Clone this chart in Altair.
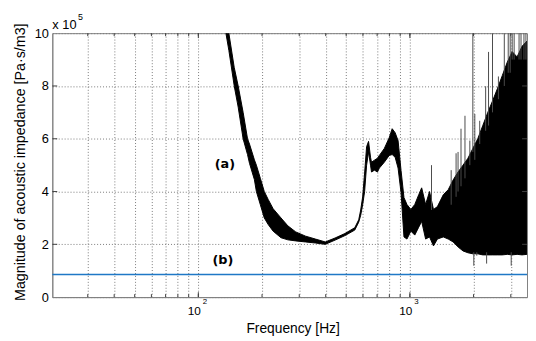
import altair as alt
import pandas as pd

# ---- curve (a): frequency [Hz], lower / upper envelope of the noisy trace [x 1e5 Pa·s/m3]
a_freq = [135.0, 139.4, 147.8, 154.3, 162.8, 170.8, 174.5, 184.1, 188.1, 196.4,
          205.0, 213.9, 225.7, 245.9, 265.0, 288.7, 321.4, 357.7, 398.1, 443.1,
          493.2, 549.0, 573.1, 585.5, 598.2, 611.1, 624.4, 637.9, 651.7, 658.7,
          680.2, 702.5, 717.7, 757.1, 798.8, 824.9, 851.8, 879.6, 908.4, 938.0,
          968.7, 1010.8, 1055.1, 1101.4, 1137.2, 1187.1, 1238.9, 1293.2, 1349.9, 1439.1,
          1518.4, 1602.3, 1690.4, 1783.5, 1881.6, 1985.3, 2094.4, 2209.6, 2331.2, 2459.3,
          2594.5, 2737.4, 2887.3, 3045.9, 3214.0, 3390.5, 3577.4]
a_lo = [10.0, 9.35, 8.0, 7.2, 6.0, 5.4, 5.07, 4.45, 4.0, 3.5,
        3.0, 2.75, 2.5, 2.25, 2.17, 2.13, 2.09, 2.05, 2.0, 2.16,
        2.33, 2.54, 2.84, 3.1, 3.5, 4.0, 5.0, 5.5, 5.0, 4.74,
        4.81, 4.74, 4.89, 5.11, 5.37, 5.4, 5.3, 4.89, 3.96, 2.28,
        2.2, 2.5, 2.35, 2.65, 2.87, 2.2, 2.28, 1.94, 2.2, 2.28,
        2.2, 2.09, 1.9, 1.75, 1.68, 1.64, 1.64, 1.6, 1.6, 1.6,
        1.6, 1.6, 1.62, 1.6, 1.62, 1.6, 1.62]
a_hi = [10.6, 10.0, 8.7, 8.0, 7.0, 6.0, 5.8, 5.2, 5.0, 4.5,
        4.0, 3.7, 3.35, 3.0, 2.7, 2.47, 2.31, 2.2, 2.09, 2.24,
        2.41, 2.63, 2.93, 3.3, 3.8, 4.7, 5.7, 5.9, 5.3, 5.11,
        5.19, 5.26, 5.37, 5.63, 6.04, 6.38, 6.23, 5.93, 4.8, 3.77,
        3.51, 3.32, 3.51, 3.88, 4.14, 3.51, 4.0, 3.32, 3.43, 3.88,
        4.07, 4.44, 4.74, 5.0, 5.26, 5.63, 6.0, 6.49, 6.98, 7.43,
        7.9, 8.4, 8.9, 9.3, 9.1, 9.5, 9.7]

# isolated spikes of curve (a)
spike_freq = [1265.7, 1568, 1654, 1690, 1745, 1822, 1921, 1985, 2006, 2028,
              2072, 2139, 2282, 2306, 2355, 2459, 2622, 2796, 2918, 2981,
              3014, 3046, 3112, 3283, 3354, 3463, 3538]
spike_lo = [3.3, 3.5, 3.8, 4.0, 4.2, 4.5, 5.0, 5.5, 1.19, 5.2,
            1.57, 5.8, 6.3, 1.27, 6.5, 7.0, 7.5, 8.0, 8.5, 8.5,
            1.19, 9.0, 9.0, 9.0, 9.0, 9.0, 9.0]
spike_hi = [5.0, 4.81, 5.45, 5.5, 6.38, 6.87, 5.93, 10.0, 1.7, 6.94,
            1.7, 6.68, 7.99, 1.7, 9.29, 10.0, 8.36, 10.0, 10.0, 10.0,
            1.7, 10.0, 10.0, 10.0, 10.0, 10.0, 10.0]

# ---- curve (b)
b_freq = [20.4, 3580]
b_val = [0.86, 0.86]

# ---- axes
x_domain = [20.4, 3580]
y_domain = [0, 10]
x_grid = [30, 40, 50, 60, 70, 80, 90, 100, 200, 300, 400, 500, 600, 700, 800, 900,
          1000, 2000, 3000]
x_major = [100, 1000]
x_base = ["10", "10"]
x_exponents = ["2", "3"]
y_ticks = [0, 2, 4, 6, 8, 10]
y_inner = [2, 4, 6, 8]
annot_freq = [133.5, 130.7]
annot_val = [5.04, 1.42]
annot_text = ["(a)", "(b)"]
y_factor = ["x 10"]
y_factor_exp = ["5"]

W, H = 482, 268
FONT = "Liberation Sans"
GRID = dict(grid=True, gridDash=[1, 2], gridColor="#7a7a7a", gridWidth=1,
            domainColor="#808080", ticks=False, labelColor="black",
            titleColor="black", labelFont=FONT, titleFont=FONT,
            titleFontWeight="normal")

xs = alt.Scale(type="log", domain=x_domain, nice=False)
ys = alt.Scale(domain=y_domain, nice=False)
X_AX = alt.Axis(values=x_grid, labels=False,
                title="Frequency [Hz]", titleFontSize=14, titleX=244, titleY=32,
                titleBaseline="middle", titleAlign="center", **GRID)
Y_AX = alt.Axis(values=y_ticks, labelFontSize=13, labelPadding=4,
                title="Magnitude of acoustic impedance [Pa·s/m3]", titleFontSize=14.5,
                titleAngle=-90, titleX=-32, titleY=130.5, titleAlign="center",
                titleBaseline="middle", **GRID)


def X(field):
    return alt.X(field, scale=xs, axis=X_AX)


def Y(field):
    return alt.Y(field, scale=ys, axis=Y_AX)


area_df = pd.DataFrame({"f": a_freq, "lo": a_lo, "hi": a_hi})
spike_df = pd.DataFrame({"f": spike_freq, "lo": spike_lo, "hi": spike_hi})
b_df = pd.DataFrame({"f": b_freq, "v": b_val})

area = alt.Chart(area_df).mark_area(
    fill="black", stroke="black", strokeWidth=1, clip=True, interpolate="linear"
).encode(x=X("f:Q"), y=Y("hi:Q"), y2="lo:Q")

spikes = alt.Chart(spike_df).mark_rule(color="#4a4a4a", strokeWidth=1, clip=True).encode(
    x=X("f:Q"), y=Y("hi:Q"), y2="lo:Q")

blue = alt.Chart(b_df).mark_line(color="#1f78c6", strokeWidth=1.6).encode(
    x=X("f:Q"), y=Y("v:Q"))

xg_df = pd.DataFrame({"f": x_grid})
xm_df = pd.DataFrame({"f": x_major, "b": x_base, "e": x_exponents})
yi_df = pd.DataFrame({"v": y_inner})

tick_col = "#404040"
bot_ticks = alt.Chart(xg_df).mark_rule(color=tick_col).encode(
    x=X("f:Q"), y=alt.value(H), y2=alt.value(H - 3))
top_ticks = alt.Chart(xg_df).mark_rule(color=tick_col).encode(
    x=X("f:Q"), y=alt.value(0), y2=alt.value(3))
bot_major = alt.Chart(xm_df).mark_rule(color=tick_col).encode(
    x=X("f:Q"), y=alt.value(H), y2=alt.value(H - 5))
top_major = alt.Chart(xm_df).mark_rule(color=tick_col).encode(
    x=X("f:Q"), y=alt.value(0), y2=alt.value(5))
left_ticks = alt.Chart(yi_df).mark_rule(color=tick_col).encode(
    y=Y("v:Q"), x=alt.value(0), x2=alt.value(5))
right_ticks = alt.Chart(yi_df).mark_rule(color=tick_col).encode(
    y=Y("v:Q"), x=alt.value(W), x2=alt.value(W - 5))

bases = alt.Chart(xm_df).mark_text(
    font=FONT, fontSize=12, align="right", baseline="middle", dx=2.5, color="black"
).encode(x=X("f:Q"), y=alt.value(H + 14), text="b:N")
exps = alt.Chart(xm_df).mark_text(
    font=FONT, fontSize=8, align="left", baseline="middle", dx=4.5, color="black"
).encode(x=X("f:Q"), y=alt.value(H + 5), text="e:N")

annot = alt.Chart(pd.DataFrame({"f": annot_freq, "v": annot_val, "t": annot_text})).mark_text(
    font="DejaVu Sans", fontWeight="bold", fontSize=13, align="center",
    baseline="middle", color="black"
).encode(x=X("f:Q"), y=Y("v:Q"), text="t:N")

factor = alt.Chart(pd.DataFrame({"t": y_factor})).mark_text(
    font=FONT, fontSize=13, align="left", baseline="middle", color="black"
).encode(x=alt.value(0), y=alt.value(-8.5), text="t:N")
factor_exp = alt.Chart(pd.DataFrame({"t": y_factor_exp})).mark_text(
    font=FONT, fontSize=9, align="left", baseline="middle", color="black"
).encode(x=alt.value(26), y=alt.value(-16.5), text="t:N")

chart = alt.layer(
    area, spikes, blue, bot_ticks, top_ticks, bot_major, top_major,
    left_ticks, right_ticks, bases, exps, annot, factor, factor_exp
).properties(
    width=W, height=H,
    padding={"left": 45, "top": 23, "right": 1, "bottom": 42},
    autosize=alt.AutoSizeParams(type="none"),
    background="white",
).configure_view(stroke="#808080", strokeWidth=1)

chart.save("out.html", embed_options={"renderer": "svg", "actions": False})
